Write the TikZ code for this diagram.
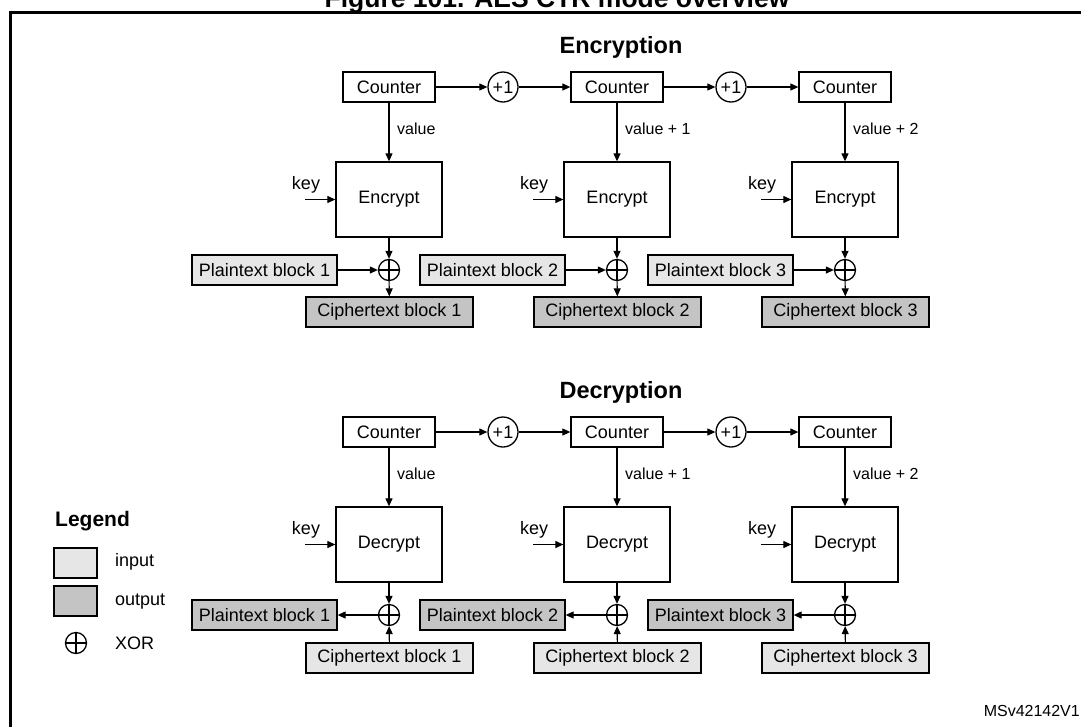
\documentclass[tikz,border=0pt]{standalone}
\usepackage{fontspec}
\setmainfont{Liberation Sans}
\usetikzlibrary{arrows.meta}
\definecolor{ingray}{HTML}{E6E6E6}
\definecolor{outgray}{HTML}{C4C4C4}
\tikzset{
  base/.style={draw, line width=1.3pt, inner sep=0pt, font=\fontsize{18}{20}\selectfont},
  cnt/.style={base, minimum width=92pt, minimum height=30pt},
  cipherbox/.style={base, minimum width=106pt, minimum height=75pt},
  inbox/.style={base, fill=ingray, minimum height=30pt},
  outbox/.style={base, fill=outgray, minimum height=30pt},
  plainw/.style={minimum width=145pt},
  cipherw/.style={minimum width=167pt},
  xorc/.style={circle, draw, line width=1.3pt, minimum size=21pt, inner sep=0pt,
    path picture={\draw[line width=1.3pt] (path picture bounding box.north) -- (path picture bounding box.south)
      (path picture bounding box.west) -- (path picture bounding box.east);}},
  plusc/.style={circle, draw, line width=1.3pt, minimum size=30pt, inner sep=0pt, font=\fontsize{18}{20}\selectfont},
  arr/.style={-{Triangle[length=8pt,width=7pt]}, line width=1.1pt},
  lbl/.style={inner sep=0pt, font=\fontsize{16}{18}\selectfont},
  keylbl/.style={inner sep=0pt, font=\fontsize{18}{20}\selectfont},
  head/.style={inner sep=0pt, font=\fontsize{23.5}{26}\selectfont\bfseries},
}
\begin{document}
\begin{tikzpicture}[x=1pt,y=-1pt]
\useasboundingbox (0,0) rectangle (1081,726);
\begin{scope}
\clip (0,0) rectangle (1081,726);
% cut-off figure title
\node[inner sep=0pt, anchor=base, font=\fontsize{26.5}{28}\selectfont\bfseries] (title) at (557,7) {Figure 101. AES CTR mode overview};
% frame
\draw[line width=3pt] (10,740) -- (10,12.5) -- (1095,12.5);
\end{scope}

\node[head] (enchead) at (621,47) {Encryption};
\node[head] (dechead) at (621,392) {Decryption};

% ===== Encryption =====
\foreach \i/\cx/\val in {1/389/value, 2/617/value + 1, 3/845/value + 2}{
  \node[cnt] (ec\i) at (\cx,87) {Counter};
  \node[lbl, anchor=west] (ev\i) at (\cx+8,129) {\val};
  \node[cipherbox] (ee\i) at (\cx,199.5) {Encrypt};
  \node[keylbl] (ek\i) at (\cx-83,185) {key};
  \coordinate (eks\i) at (\cx-84,199.5);
  \node[xorc] (ex\i) at (\cx,270) {};
  \node[inbox, plainw] (ep\i) at (\cx-124.5,270) {Plaintext block \i};
  \node[outbox, cipherw] (eo\i) at (\cx+0.5,312) {Ciphertext block \i};
  \draw[arr] (ec\i) -- (ee\i);
  \draw[arr] (eks\i) -- (ee\i.west |- eks\i);
  \draw[arr] (ee\i) -- (ex\i);
  \draw[arr] (ep\i) -- (ex\i);
  \draw[arr] (ex\i) -- (eo\i);
}
\node[plusc] (ep12) at (503,87) {+1};
\node[plusc] (ep23) at (731,87) {+1};
\draw[arr] (ec1) -- (ep12);
\draw[arr] (ep12) -- (ec2);
\draw[arr] (ec2) -- (ep23);
\draw[arr] (ep23) -- (ec3);

% ===== Decryption =====
\foreach \i/\cx/\val in {1/389/value, 2/617/value + 1, 3/845/value + 2}{
  \node[cnt] (dc\i) at (\cx,432) {Counter};
  \node[lbl, anchor=west] (dv\i) at (\cx+8,474) {\val};
  \node[cipherbox] (dd\i) at (\cx,544.5) {Decrypt};
  \node[keylbl] (dk\i) at (\cx-83,530) {key};
  \coordinate (dks\i) at (\cx-84,544.5);
  \node[xorc] (dx\i) at (\cx,615) {};
  \node[outbox, plainw] (dp\i) at (\cx-124.5,615) {Plaintext block \i};
  \node[inbox, cipherw] (di\i) at (\cx+0.5,658) {Ciphertext block \i};
  \draw[arr] (dc\i) -- (dd\i);
  \draw[arr] (dks\i) -- (dd\i.west |- dks\i);
  \draw[arr] (dd\i) -- (dx\i);
  \draw[arr] (dx\i) -- (dp\i);
  \draw[arr] (di\i) -- (dx\i);
}
\node[plusc] (dp12) at (503,432) {+1};
\node[plusc] (dp23) at (731,432) {+1};
\draw[arr] (dc1) -- (dp12);
\draw[arr] (dp12) -- (dc2);
\draw[arr] (dc2) -- (dp23);
\draw[arr] (dp23) -- (dc3);

% ===== Legend =====
\node[inner sep=0pt, anchor=west, font=\fontsize{21}{24}\selectfont\bfseries] (leg) at (55,521) {Legend};
\node[base, fill=ingray, minimum width=43pt, minimum height=30pt] (legin) at (75.5,563) {};
\node[base, fill=outgray, minimum width=43pt, minimum height=30pt] (legout) at (75.5,601) {};
\node[xorc] (legxor) at (76,643) {};
\node[keylbl, anchor=west] (legint) at (115,562) {input};
\node[keylbl, anchor=west] (legoutt) at (115,602) {output};
\node[keylbl, anchor=west] (legxort) at (115,643) {XOR};

\node[lbl, anchor=east] (ref) at (1080,711) {MSv42142V1};
\end{tikzpicture}
\end{document}
